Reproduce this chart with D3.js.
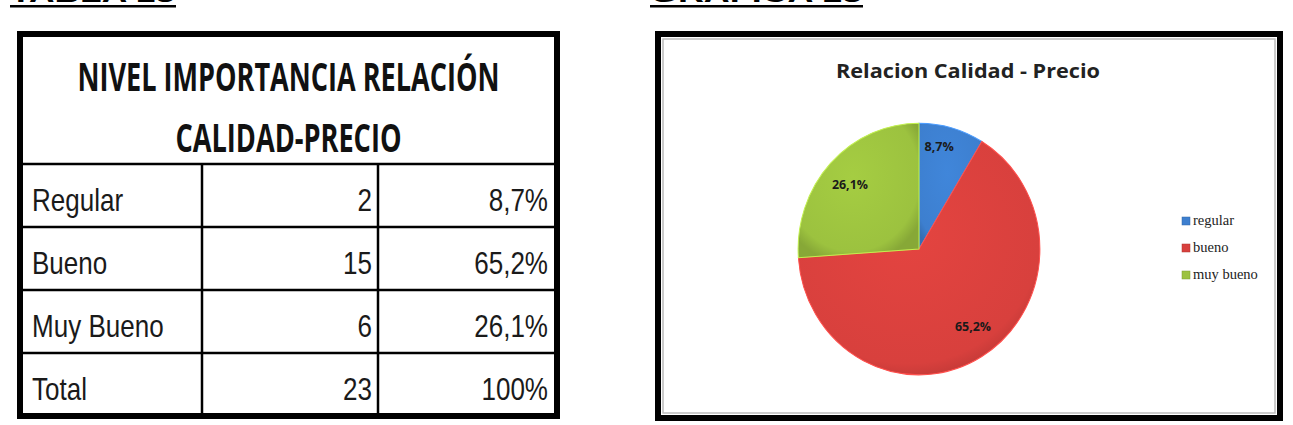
<!DOCTYPE html>
<html><head><meta charset="utf-8">
<script src="https://cdn.jsdelivr.net/npm/d3@7"></script>
<style>html,body{margin:0;padding:0;background:#fff;overflow:hidden}</style>
</head><body>
<svg id="c" width="1293" height="425"></svg>
<script>
const categories = ["Regular", "Bueno", "Muy Bueno"];
const counts = [2, 15, 6];
const percents = ["8,7%", "65,2%", "26,1%"];
const totalLabel = "Total";
const totalCount = 23;
const totalPercent = "100%";
const legendLabels = ["regular", "bueno", "muy bueno"];
const pieValues = [8.7, 65.2, 26.1];
const tableTitle = ["NIVEL IMPORTANCIA RELACIÓN", "CALIDAD-PRECIO"];
const chartTitle = "Relacion Calidad - Precio";
const colors = ["#3d7fcf", "#d8403d", "#9cc23f"];

const svg = d3.select("#c");

// cut-off headings at top
svg.append("text").attr("x", 10).attr("y", 2).attr("font-family", "Liberation Sans").attr("font-weight", "bold")
  .attr("font-size", 26).attr("textLength", 165).attr("lengthAdjust", "spacingAndGlyphs").text("TABLA 13");
svg.append("rect").attr("x", 10).attr("y", 5).attr("width", 166).attr("height", 2.5).attr("fill", "#000");
svg.append("text").attr("x", 650).attr("y", 2).attr("font-family", "Liberation Sans").attr("font-weight", "bold")
  .attr("font-size", 26).attr("textLength", 212).attr("lengthAdjust", "spacingAndGlyphs").text("GRAFICA 13");
svg.append("rect").attr("x", 650).attr("y", 5).attr("width", 213).attr("height", 2.5).attr("fill", "#000");

// ---------- TABLE ----------
const tX0 = 20, tX1 = 557, tY0 = 34, headerBottom = 164, tY1 = 416;
const rows = categories.map((c, i) => ({label: c, n: counts[i], p: percents[i]}))
  .concat([{label: totalLabel, n: totalCount, p: totalPercent}]);
const rowY = d3.scaleBand().domain(d3.range(rows.length)).range([headerBottom, tY1]);
const colX = [tX0, 202, 378, tX1];
const tg = svg.append("g");
tg.append("rect").attr("x", tX0).attr("y", tY0).attr("width", tX1 - tX0).attr("height", tY1 - tY0)
  .attr("fill", "#fff").attr("stroke", "#000").attr("stroke-width", 6);
tableTitle.forEach((t, i) => {
  tg.append("text").attr("x", (tX0 + tX1) / 2).attr("y", i === 0 ? 91 : 152)
    .attr("text-anchor", "middle").attr("font-family", "Open Sans").attr("font-weight", "bold")
    .attr("font-size", 40).attr("textLength", i === 0 ? 422 : 226).attr("lengthAdjust", "spacingAndGlyphs")
    .attr("fill", "#111").text(t);
});
tg.append("line").attr("x1", tX0).attr("x2", tX1).attr("y1", headerBottom).attr("y2", headerBottom)
  .attr("stroke", "#000").attr("stroke-width", 2.5);
rows.forEach((r, i) => {
  const y = rowY(i), h = rowY.bandwidth();
  if (i > 0) tg.append("line").attr("x1", tX0).attr("x2", tX1).attr("y1", y).attr("y2", y)
    .attr("stroke", "#000").attr("stroke-width", 2.5);
  const base = y + h * 0.74;
  const txt = (x, anchor, s) => tg.append("text").attr("transform", `translate(${x},${base}) scale(0.84,1)`)
    .attr("text-anchor", anchor)
    .attr("font-family", "Liberation Sans Narrow, Arial Narrow, Liberation Sans").attr("font-size", 31)
    .attr("fill", "#1a1a1a").text(s);
  txt(32, "start", r.label);
  txt(372, "end", r.n);
  txt(548, "end", r.p);
});
[colX[1], colX[2]].forEach(x => tg.append("line").attr("x1", x).attr("x2", x).attr("y1", headerBottom).attr("y2", tY1)
  .attr("stroke", "#000").attr("stroke-width", 2.5));

// ---------- CHART ----------
const cX0 = 658, cX1 = 1280, cY0 = 34, cY1 = 418;
const cg = svg.append("g");
cg.append("rect").attr("x", cX0).attr("y", cY0).attr("width", cX1 - cX0).attr("height", cY1 - cY0)
  .attr("fill", "#fff").attr("stroke", "#000").attr("stroke-width", 6);
cg.append("rect").attr("x", cX0 + 5).attr("y", cY0 + 5).attr("width", cX1 - cX0 - 10).attr("height", cY1 - cY0 - 10)
  .attr("fill", "none").attr("stroke", "#bbb").attr("stroke-width", 1.5);
cg.append("text").attr("x", 968).attr("y", 78).attr("text-anchor", "middle")
  .attr("font-family", "Open Sans").attr("font-weight", "bold").attr("font-size", 20)
  .attr("textLength", 264).attr("lengthAdjust", "spacingAndGlyphs").attr("fill", "#222").text(chartTitle);

const defs = svg.append("defs");
colors.forEach((c, i) => {
  const g = defs.append("radialGradient").attr("id", "g" + i).attr("cx", "45%").attr("cy", "40%").attr("r", "65%");
  g.append("stop").attr("offset", "0%").attr("stop-color", d3.color(c).brighter(0.15));
  g.append("stop").attr("offset", "85%").attr("stop-color", c);
  g.append("stop").attr("offset", "100%").attr("stop-color", d3.color(c).darker(0.4));
});

const R = 124;
const pie = d3.pie().sort(null).value(d => d);
const arcs = pie(pieValues);
const arc = d3.arc().innerRadius(0).outerRadius(R);
const pg = cg.append("g").attr("transform", "translate(919,249) scale(0.975,1.015)");
pg.selectAll("path.s").data(arcs).join("path").attr("class", "s")
  .attr("d", arc).attr("fill", (d, i) => `url(#g${i})`)
  .attr("stroke", (d, i) => d3.color(colors[i]).brighter(0.6)).attr("stroke-width", 1);
// label placement: fraction along the slice angle, and radius fraction
const labelAngleFrac = [0.37, 0.48, 0.49];
const labelRadiusFrac = [0.83, 0.76, 0.77];
arcs.forEach((d, i) => {
  const a = d.startAngle + labelAngleFrac[i] * (d.endAngle - d.startAngle);
  const rr = labelRadiusFrac[i] * R;
  const x = Math.sin(a) * rr, y = -Math.cos(a) * rr;
  pg.append("text").attr("x", x).attr("y", y + 4.5).attr("text-anchor", "middle")
    .attr("font-family", "Open Sans").attr("font-weight", "bold").attr("font-size", 12)
    .attr("textLength", 30 + (percents[i].length - 4) * 7).attr("lengthAdjust", "spacingAndGlyphs")
    .attr("fill", "#1a1a1a").text(percents[i]);
});

const lg = cg.append("g");
legendLabels.forEach((t, i) => {
  const y = 222 + i * 27;
  lg.append("rect").attr("x", 1182).attr("y", y - 5).attr("width", 8).attr("height", 8)
    .attr("fill", colors[i]).attr("stroke", d3.color(colors[i]).darker(0.6)).attr("stroke-width", 0.5);
  lg.append("text").attr("x", 1193).attr("y", y + 3).attr("font-family", "Liberation Serif")
    .attr("font-size", 14.5).attr("fill", "#222").text(t);
});
</script>
</body></html>
